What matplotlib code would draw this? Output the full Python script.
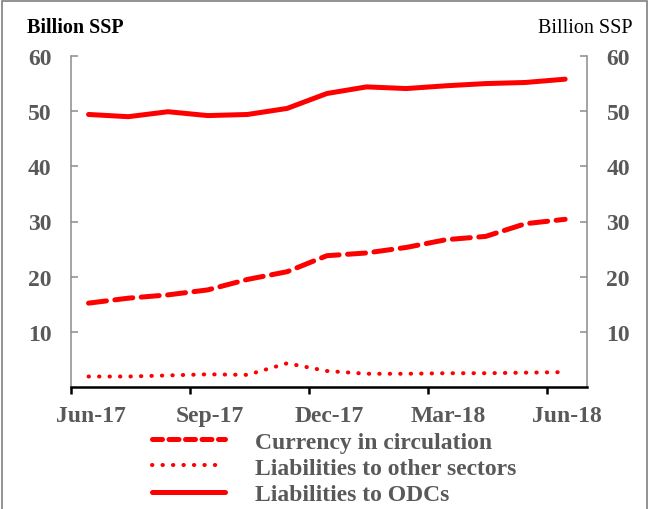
#!/usr/bin/env python3
"""Central bank liabilities, Jun-17 to Jun-18 (billion SSP)."""

import matplotlib
matplotlib.use("Agg")
import matplotlib.pyplot as plt
from matplotlib.lines import Line2D
from matplotlib.patches import Rectangle

# Datos mensuales
MONTHS = ["Jun-17", "Jul-17", "Aug-17", "Sep-17", "Oct-17", "Nov-17", "Dec-17",
          "Jan-18", "Feb-18", "Mar-18", "Apr-18", "May-18", "Jun-18"]
CURRENCY = [15.2, 16.1, 16.7, 17.6, 19.5, 20.9, 23.8, 24.3, 25.3, 26.7, 27.3, 29.6, 30.4]
OTHER_SECTORS = [1.9, 1.9, 2.1, 2.3, 2.2, 4.3, 2.9, 2.4, 2.4, 2.5, 2.5, 2.6, 2.7]
ODCS = [49.4, 49.0, 49.9, 49.2, 49.4, 50.5, 53.2, 54.4, 54.1, 54.6, 55.0, 55.2, 55.8]

TICK_MONTHS = ["Jun-17", "Sep-17", "Dec-17", "Mar-18", "Jun-18"]
Y_TICKS = [10, 20, 30, 40, 50, 60]

RED = "#FF0000"
GREY = "#595959"
SPINE_GREY = "#8C8C8C"
FS = 17

plt.rcParams["font.family"] = ["Liberation Serif", "DejaVu Serif"]

W, H = 650, 510
fig = plt.figure(figsize=(W / 100, H / 100), dpi=100)
ax = fig.add_axes([70.7 / W, 1 - 388 / H, (587 - 70.7) / W, (388 - 57) / H])

# posición de cada mes: mitad del mes
x = [i + 0.45 for i in range(len(MONTHS))]

dash_style = (0, (3.6, 1.7))
dot_style = (0, (0.1, 2.5))

ax.plot(x, CURRENCY, color=RED, lw=3.6, linestyle=dash_style,
        dash_capstyle="round", solid_capstyle="round")
ax.plot(x, OTHER_SECTORS, color=RED, lw=2.9, linestyle=dot_style,
        dash_capstyle="round")
ax.plot(x, ODCS, color=RED, lw=3.6, solid_capstyle="round")

ax.set_xlim(0, 13)
ax.set_ylim(0, 60)

# marcas al inicio del mes, etiquetas centradas en el mes
tick_idx = [MONTHS.index(m) for m in TICK_MONTHS]
ax.set_xticks(tick_idx)
ax.set_xticklabels([])
ax.set_xticks([i + 0.5 for i in tick_idx], minor=True)
ax.set_xticklabels(TICK_MONTHS, minor=True)
ax.set_yticks(Y_TICKS)

ax.spines["top"].set_visible(False)
for side in ("left", "right"):
    ax.spines[side].set_color(SPINE_GREY)
    ax.spines[side].set_linewidth(1.1)
ax.spines["bottom"].set_color("black")
ax.spines["bottom"].set_linewidth(1.8)

ax.tick_params(axis="y", which="both", direction="in", length=5, width=1.1,
               color=SPINE_GREY, left=True, right=True, labelleft=True,
               labelright=True, labelsize=FS, labelcolor=GREY, pad=14)
ax.tick_params(axis="x", which="major", direction="out", length=5, width=1.8,
               color="black")
ax.tick_params(axis="x", which="minor", length=0, labelsize=FS,
               labelcolor=GREY, pad=13)
for lab in ax.get_xticklabels(minor=True):
    lab.set_fontweight("bold")
for t in ax.yaxis.get_major_ticks():
    t.label1.set_fontweight("bold")
    t.label2.set_fontweight("bold")

fig.text(27 / W, 1 - 33 / H, "Billion SSP", fontsize=14.5, fontweight="bold",
         ha="left", va="baseline", color="black")
fig.text(632 / W, 1 - 33 / H, "Billion SSP", fontsize=14.5,
         ha="right", va="baseline", color="black")

handles = [
    Line2D([], [], color=RED, lw=3.6, linestyle=(0, (2.0, 1.3)),
           dash_capstyle="round"),
    Line2D([], [], color=RED, lw=2.9, linestyle=dot_style, dash_capstyle="round"),
    Line2D([], [], color=RED, lw=3.6, solid_capstyle="round"),
]
labels = ["Currency in circulation", "Liabilities to other sectors",
          "Liabilities to ODCs"]
leg = fig.legend(handles, labels, loc="center left",
                 bbox_to_anchor=(152 / W, 1 - 469 / H), frameon=False,
                 borderpad=0, borderaxespad=0, handlelength=3.1,
                 handletextpad=1.25, labelspacing=0.2,
                 prop={"size": FS, "weight": "bold"})
for t in leg.get_texts():
    t.set_color(GREY)

# marco gris alrededor de la figura
fig.patches.append(Rectangle((2 / W, -0.02), 645 / W, 1.02 - 2 / H,
                             transform=fig.transFigure, fill=False,
                             edgecolor="#7F7F7F", lw=1.2))

fig.savefig("out.png", dpi=100)
